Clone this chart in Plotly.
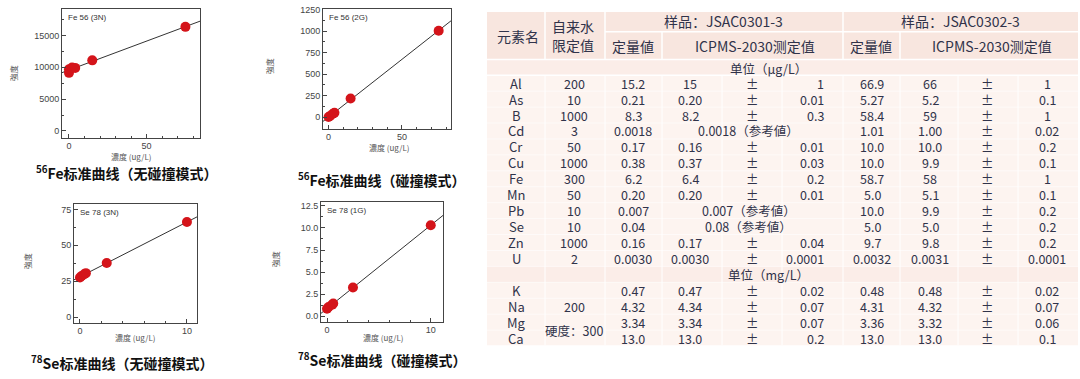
import numpy as np
import plotly.graph_objects as go

W, H = 1080, 379

# ---------------- calibration data ----------------
fe_nc_x = [0, 0, 2, 4, 15, 75]
fe_nc_y = [9120, 9690, 9950, 9900, 11080, 16340]
fe_c_x = [0, 1, 3, 4, 15, 75]
fe_c_y = [0, 12, 38, 50, 215, 1005]
se_nc_x = [0, 0.15, 0.4, 0.55, 2.5, 10]
se_nc_y = [27.5, 28.6, 29.8, 30.6, 37.6, 66.2]
se_c_x = [0, 0.15, 0.5, 0.6, 2.5, 10]
se_c_y = [0.85, 1.05, 1.3, 1.45, 3.25, 10.3]

plot_labels = ["Fe 56 (3N)", "Fe 56 (2G)", "Se 78 (3N)", "Se 78 (1G)"]
captions = ["<sup>56</sup>Fe标准曲线（无碰撞模式）", "<sup>56</sup>Fe标准曲线（碰撞模式）",
            "<sup>78</sup>Se标准曲线（无碰撞模式）", "<sup>78</sup>Se标准曲线（碰撞模式）"]
x_title = "濃度 (ug/L)"
y_title = "強度"

# ---------------- table data ----------------
elements_ug = ["Al", "As", "B", "Cd", "Cr", "Cu", "Fe", "Mn", "Pb", "Se", "Zn", "U"]
limits_ug = ["200", "10", "1000", "3", "50", "1000", "300", "50", "10", "10", "1000", "2"]
s1_quant_ug = ["15.2", "0.21", "8.3", "0.0018", "0.17", "0.38", "6.2", "0.20", "0.007", "0.04", "0.16", "0.0030"]
s1_meas_ug = ["15", "0.20", "8.2", "0.0018（参考値）", "0.16", "0.37", "6.4", "0.20",
              "0.007（参考値）", "0.08（参考値）", "0.17", "0.0030"]
s1_err_ug = ["1", "0.01", "0.3", "", "0.01", "0.03", "0.2", "0.01", "", "", "0.04", "0.0001"]
s2_quant_ug = ["66.9", "5.27", "58.4", "1.01", "10.0", "10.0", "58.7", "5.0", "10.0", "5.0", "9.7", "0.0032"]
s2_meas_ug = ["66", "5.2", "59", "1.00", "10.0", "9.9", "58", "5.1", "9.9", "5.0", "9.8", "0.0031"]
s2_err_ug = ["1", "0.1", "1", "0.02", "0.2", "0.1", "1", "0.1", "0.2", "0.2", "0.2", "0.0001"]

elements_mg = ["K", "Na", "Mg", "Ca"]
limits_mg = ["", "200", "", ""]
hardness_label = "硬度：300"
s1_quant_mg = ["0.47", "4.32", "3.34", "13.0"]
s1_meas_mg = ["0.47", "4.34", "3.34", "13.0"]
s1_err_mg = ["0.02", "0.07", "0.07", "0.2"]
s2_quant_mg = ["0.48", "4.31", "3.36", "13.0"]
s2_meas_mg = ["0.48", "4.32", "3.32", "13.0"]
s2_err_mg = ["0.02", "0.07", "0.06", "0.1"]

header_cells = ["元素名", "自来水", "限定值", "样品：JSAC0301-3", "定量値", "ICPMS-2030测定值",
                "样品：JSAC0302-3", "定量値", "ICPMS-2030测定值"]
unit_ug = "单位（μg/L）"
unit_mg = "单位（mg/L）"
pm = "±"

# ---------------- helpers ----------------
def px(x):
    return x / W

def py(y):
    return 1 - y / H

CJK = "Noto Sans CJK SC, Noto Sans, sans-serif"
NUM = "Noto Sans CJK SC, Noto Sans, sans-serif"
TXT = "#30334a"
RED = "#d4141a"

fig = go.Figure()
annotations = []
shapes = []

# plot boxes (pixels): left, right, top, bottom ; axis ranges
plots = [
    dict(box=(62, 200, 5, 135), xr=[-4.5, 84.4], yr=[-1040, 19150], xd=50, xm=10, yd=5000, ym=2500,
         x=fe_nc_x, y=fe_nc_y, fmt="d", ytit=(13, 70), xtit=(131, 154), cap=(127, 170)),
    dict(box=(323, 451, 5, 126), xr=[-3.8, 83.4], yr=[-135, 1258], xd=50, xm=10, yd=250, ym=125,
         x=fe_c_x, y=fe_c_y, fmt="d", ytit=(269, 63), xtit=(389, 145), cap=(382, 177)),
    dict(box=(74, 197, 202, 322), xr=[-0.56, 10.94], yr=[-3.9, 78.9], xd=10, xm=2, yd=25, ym=12.5,
         x=se_nc_x, y=se_nc_y, fmt="d", ytit=(27, 260), xtit=(135, 337), cap=(122, 362)),
    dict(box=(321, 443, 200, 321), xr=[-0.58, 11.18], yr=[-0.61, 12.95], xd=10, xm=2, yd=2.5, ym=1.25,
         x=se_c_x, y=se_c_y, fmt=".1f", ytit=(275, 258), xtit=(383, 337), cap=(382, 359)),
]

layout_axes = {}
for i, p in enumerate(plots):
    n = i + 1
    xa = "x" if n == 1 else f"x{n}"
    ya = "y" if n == 1 else f"y{n}"
    l, r, t, b = p["box"]
    # fitted calibration line from the data
    slope, icpt = np.polyfit(p["x"], p["y"], 1)
    lx = np.array(p["xr"])
    fig.add_trace(go.Scatter(x=lx, y=slope * lx + icpt, mode="lines",
                             line=dict(color="#333333", width=1), xaxis=xa, yaxis=ya,
                             showlegend=False, hoverinfo="skip"))
    fig.add_trace(go.Scatter(x=p["x"], y=p["y"], mode="markers",
                             marker=dict(color=RED, size=10, line=dict(width=0)),
                             xaxis=xa, yaxis=ya, showlegend=False))
    axcommon = dict(showgrid=False, zeroline=False, showline=True, mirror=True,
                    linecolor="#444444", linewidth=1, ticks="inside", ticklen=4,
                    tickcolor="#444444", tickfont=dict(family="Liberation Sans, Arial", size=9, color="#444444"))
    xkey = "xaxis" if n == 1 else f"xaxis{n}"
    ykey = "yaxis" if n == 1 else f"yaxis{n}"
    layout_axes[xkey] = dict(domain=[px(l), px(r)], range=p["xr"], anchor=ya, dtick=p["xd"], tick0=0,
                             tickformat="d",
                             minor=dict(ticks="inside", dtick=p["xm"], ticklen=2, tickcolor="#444444"),
                             **axcommon)
    layout_axes[ykey] = dict(domain=[py(b), py(t)], range=p["yr"], anchor=xa, dtick=p["yd"], tick0=0,
                             tickformat=p["fmt"],
                             minor=dict(ticks="inside", dtick=p["ym"], ticklen=2, tickcolor="#444444"),
                             **axcommon)
    annotations.append(dict(text=plot_labels[i], xref=f"{xa} domain", yref=f"{ya} domain",
                            x=0.03, y=0.985, xanchor="left", yanchor="top", showarrow=False,
                            font=dict(family="Liberation Sans, Arial", size=8, color="#333333")))
    annotations.append(dict(text=y_title, xref="paper", yref="paper", x=px(p["ytit"][0]), y=py(p["ytit"][1]),
                            xanchor="center", yanchor="middle", textangle=-90, showarrow=False,
                            font=dict(family=CJK, size=8, color="#555555")))
    annotations.append(dict(text=x_title, xref="paper", yref="paper", x=px(p["xtit"][0]), y=py(p["xtit"][1]),
                            xanchor="center", yanchor="middle", showarrow=False,
                            font=dict(family=CJK, size=8, color="#555555")))
    annotations.append(dict(text=captions[i], xref="paper", yref="paper", x=px(p["cap"][0]), y=py(p["cap"][1]),
                            xanchor="center", yanchor="middle", showarrow=False,
                            font=dict(family=CJK, size=14, color="#111111", weight="bold")))

# ---------------- table ----------------
T_L, T_R, T_TOP, T_BOT = 487, 1078, 8, 345
bounds = [487, 545, 605, 662, 722, 782, 843, 900, 958, 1018, 1078]
col_x = [516, 574, 633, 690, 752, 825, 872, 930, 987, 1047]
ROW0, ROW_H = 80, 16.1
HDR_C = "#f8e6df"
UNIT_C = "#fbede8"
DATA_C = "#fdf4f0"

def rect(x0, x1, y0, y1, color):
    shapes.append(dict(type="rect", xref="paper", yref="paper", x0=px(x0), x1=px(x1),
                       y0=py(y1), y1=py(y0), fillcolor=color, line=dict(width=0), layer="below"))

def hline(y, x0, x1, w=1.2):
    shapes.append(dict(type="line", xref="paper", yref="paper", x0=px(x0), x1=px(x1), y0=py(y), y1=py(y),
                       line=dict(color="white", width=w), layer="below"))

def vline(x, y0, y1, w=1.2):
    shapes.append(dict(type="line", xref="paper", yref="paper", x0=px(x), x1=px(x), y0=py(y0), y1=py(y1),
                       line=dict(color="white", width=w), layer="below"))

rect(T_L, T_R, T_TOP, 56, HDR_C)
rect(T_L, T_R, 56, 72, UNIT_C)
rect(T_L, T_R, 72, T_BOT, DATA_C)
unit_mg_top = ROW0 + 12 * ROW_H - ROW_H / 2
rect(T_L, T_R, unit_mg_top, unit_mg_top + ROW_H, UNIT_C)

for bx in [545, 605, 843]:
    vline(bx, T_TOP, 56, 1.5)
for bx in [662, 900]:
    vline(bx, 28, 56, 1.5)
hline(28, 605, T_R, 1.5)
hline(56, T_L, T_R, 1.5)
hline(72, T_L, T_R, 1.5)
for bx in bounds[1:-1]:
    vline(bx, 72, T_BOT, 1.0)
for k in range(1, 17):
    hline(72 + k * ROW_H, T_L, T_R, 0.6)


def txt(s, x, y, size=12.5, family=NUM, color=TXT, xanchor="center"):
    annotations.append(dict(text=s, xref="paper", yref="paper", x=px(x), y=py(y), xanchor=xanchor,
                            yanchor="middle", showarrow=False, borderpad=0,
                            font=dict(family=family, size=size, color=color)))

# headers
hdr_pos = [(518, 32), (573, 22), (573, 41), (723, 17), (633, 42), (755, 42), (960, 17), (871, 42), (992, 42)]
for s, (hx, hy) in zip(header_cells, hdr_pos):
    txt(s, hx, hy, size=14, family=CJK)

txt(unit_ug, 768, 65, size=12.5, family=CJK)
txt(unit_mg, 768, ROW0 + 12 * ROW_H, size=12.5, family=CJK)

def add_row(y, el, lim, q1, m1, e1, q2, m2, e2):
    txt(el, col_x[0], y, family=CJK, size=13)
    if lim:
        txt(lim, col_x[1], y)
    txt(q1, col_x[2], y)
    if "参考" in m1:
        txt(m1, (bounds[3] + bounds[6]) / 2 - 4, y)
    else:
        txt(m1, col_x[3], y)
        txt(pm, col_x[4], y)
        txt(e1, col_x[5], y, xanchor="right")
    txt(q2, col_x[6], y)
    txt(m2, col_x[7], y)
    txt(pm, col_x[8], y)
    txt(e2, col_x[9], y)

for i in range(len(elements_ug)):
    add_row(ROW0 + i * ROW_H, elements_ug[i], limits_ug[i], s1_quant_ug[i], s1_meas_ug[i], s1_err_ug[i],
            s2_quant_ug[i], s2_meas_ug[i], s2_err_ug[i])
for i in range(len(elements_mg)):
    add_row(ROW0 + (13 + i) * ROW_H, elements_mg[i], limits_mg[i], s1_quant_mg[i], s1_meas_mg[i],
            s1_err_mg[i], s2_quant_mg[i], s2_meas_mg[i], s2_err_mg[i])
txt(hardness_label, col_x[1], ROW0 + 15.5 * ROW_H, size=12.5, family=CJK)

fig.update_layout(width=W, height=H, margin=dict(l=0, r=0, t=0, b=0),
                  paper_bgcolor="white", plot_bgcolor="white",
                  annotations=annotations, shapes=shapes, showlegend=False, **layout_axes)

fig.write_html("out.html", config={"displayModeBar": False},
               post_script="document.body.style.margin='0';document.body.style.overflow='hidden';")
